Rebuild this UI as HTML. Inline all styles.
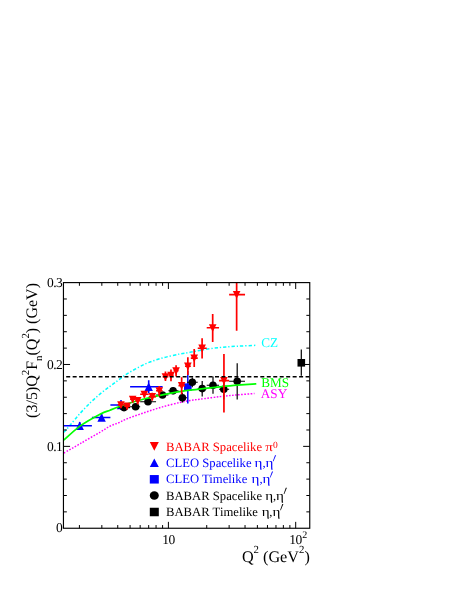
<!DOCTYPE html>
<html><head><meta charset="utf-8"><title>Form factor</title>
<style>html,body{margin:0;padding:0;background:#fff;}body{width:458px;height:592px;overflow:hidden;}svg{display:block;will-change:transform;}text{font-family:"Liberation Serif",serif;text-rendering:geometricPrecision;}</style></head><body>
<svg width="458" height="592" viewBox="0 0 458 592">
<rect x="0" y="0" width="458" height="592" fill="#fff"/>
<defs><clipPath id="c"><rect x="63.45" y="282.6" width="246.3" height="245.64999999999998"/></clipPath></defs>
<g clip-path="url(#c)">
<path d="M64.00,432.30 C64.93,431.23 66.95,429.02 69.60,425.90 C72.25,422.78 76.42,417.50 79.90,413.60 C83.38,409.70 87.07,405.83 90.50,402.50 C93.93,399.17 97.25,396.30 100.50,393.60 C103.75,390.90 106.95,388.60 110.00,386.30 C113.05,384.00 115.88,381.92 118.80,379.80 C121.72,377.68 123.15,376.22 127.50,373.60 C131.85,370.98 139.08,366.70 144.90,364.10 C150.72,361.50 156.57,359.68 162.40,358.00 C168.23,356.32 175.30,354.95 179.90,354.00 C184.50,353.05 186.23,352.98 190.00,352.30 C193.77,351.62 197.52,350.70 202.50,349.90 C207.48,349.10 214.08,348.12 219.90,347.50 C225.72,346.88 231.33,346.57 237.40,346.20 C243.47,345.83 253.15,345.45 256.30,345.30" fill="none" stroke="#00ffff" stroke-width="1.5" stroke-dasharray="3.3 1.9 1.3 2.0"/>
<path d="M64.00,453.00 C66.72,451.43 74.22,447.12 80.30,443.60 C86.38,440.08 95.55,434.80 100.50,431.90 C105.45,429.00 106.95,427.73 110.00,426.20 C113.05,424.67 115.88,423.97 118.80,422.70 C121.72,421.43 123.15,420.30 127.50,418.60 C131.85,416.90 139.08,414.45 144.90,412.50 C150.72,410.55 156.57,408.57 162.40,406.90 C168.23,405.23 175.30,403.57 179.90,402.50 C184.50,401.43 186.65,401.05 190.00,400.50 C193.35,399.95 195.02,399.85 200.00,399.20 C204.98,398.55 213.73,397.32 219.90,396.60 C226.07,395.88 231.23,395.42 237.00,394.90 C242.77,394.38 251.58,393.73 254.50,393.50" fill="none" stroke="#ff00ff" stroke-width="1.45" stroke-dasharray="1.6 1.5"/>
<line x1="63.45" y1="425.80" x2="91.90" y2="425.80" stroke="#0000ff" stroke-width="1.6"/>
<line x1="79.70" y1="422.00" x2="79.70" y2="429.60" stroke="#0000ff" stroke-width="1.6"/>
<path d="M75.50,430.00 L83.90,430.00 L79.70,421.60 Z" fill="#0000ff"/>
<line x1="91.90" y1="417.50" x2="110.40" y2="417.50" stroke="#0000ff" stroke-width="1.6"/>
<line x1="101.60" y1="413.90" x2="101.60" y2="421.10" stroke="#0000ff" stroke-width="1.6"/>
<path d="M97.40,421.70 L105.80,421.70 L101.60,413.30 Z" fill="#0000ff"/>
<line x1="110.40" y1="405.00" x2="130.10" y2="405.00" stroke="#0000ff" stroke-width="1.6"/>
<line x1="121.00" y1="399.90" x2="121.00" y2="410.00" stroke="#0000ff" stroke-width="1.6"/>
<path d="M116.80,409.20 L125.20,409.20 L121.00,400.80 Z" fill="#0000ff"/>
<line x1="130.10" y1="386.70" x2="162.60" y2="386.70" stroke="#0000ff" stroke-width="1.6"/>
<line x1="148.70" y1="380.20" x2="148.70" y2="393.20" stroke="#0000ff" stroke-width="1.6"/>
<path d="M144.50,390.90 L152.90,390.90 L148.70,382.50 Z" fill="#0000ff"/>
<line x1="187.80" y1="371.00" x2="187.80" y2="403.40" stroke="#0000ff" stroke-width="1.5"/>
<rect x="184.00" y="383.40" width="7.6" height="7.6" fill="#0000ff"/>
<line x1="117.74" y1="407.60" x2="130.08" y2="407.60" stroke="#000" stroke-width="1.1"/>
<line x1="124.00" y1="405.00" x2="124.00" y2="410.20" stroke="#000" stroke-width="1.2"/>
<circle cx="124.00" cy="407.60" r="3.8" fill="#000"/>
<line x1="130.08" y1="406.80" x2="140.16" y2="406.80" stroke="#000" stroke-width="1.1"/>
<line x1="135.60" y1="404.50" x2="135.60" y2="409.50" stroke="#000" stroke-width="1.2"/>
<circle cx="135.60" cy="406.80" r="3.8" fill="#000"/>
<line x1="140.16" y1="401.70" x2="156.06" y2="401.70" stroke="#000" stroke-width="1.1"/>
<line x1="148.00" y1="399.00" x2="148.00" y2="404.40" stroke="#000" stroke-width="1.2"/>
<circle cx="148.00" cy="401.70" r="3.8" fill="#000"/>
<line x1="156.06" y1="395.00" x2="168.40" y2="395.00" stroke="#000" stroke-width="1.1"/>
<line x1="162.50" y1="392.00" x2="162.50" y2="398.00" stroke="#000" stroke-width="1.2"/>
<circle cx="162.50" cy="395.00" r="3.8" fill="#000"/>
<line x1="168.40" y1="390.70" x2="178.48" y2="390.70" stroke="#000" stroke-width="1.1"/>
<line x1="173.10" y1="387.20" x2="173.10" y2="394.20" stroke="#000" stroke-width="1.2"/>
<circle cx="173.10" cy="390.70" r="3.8" fill="#000"/>
<line x1="178.48" y1="397.70" x2="187.00" y2="397.70" stroke="#000" stroke-width="1.1"/>
<line x1="182.40" y1="392.80" x2="182.40" y2="402.60" stroke="#000" stroke-width="1.2"/>
<circle cx="182.40" cy="397.70" r="3.8" fill="#000"/>
<line x1="187.00" y1="382.30" x2="197.74" y2="382.30" stroke="#000" stroke-width="1.1"/>
<line x1="192.30" y1="377.50" x2="192.30" y2="387.20" stroke="#000" stroke-width="1.2"/>
<circle cx="192.30" cy="382.30" r="3.8" fill="#000"/>
<line x1="197.74" y1="388.60" x2="206.72" y2="388.60" stroke="#000" stroke-width="1.1"/>
<line x1="202.20" y1="381.00" x2="202.20" y2="396.40" stroke="#000" stroke-width="1.2"/>
<circle cx="202.20" cy="388.60" r="3.8" fill="#000"/>
<line x1="206.72" y1="385.20" x2="219.06" y2="385.20" stroke="#000" stroke-width="1.1"/>
<line x1="213.00" y1="376.60" x2="213.00" y2="393.80" stroke="#000" stroke-width="1.2"/>
<circle cx="213.00" cy="385.20" r="3.8" fill="#000"/>
<line x1="219.06" y1="389.30" x2="229.14" y2="389.30" stroke="#000" stroke-width="1.1"/>
<line x1="223.80" y1="379.00" x2="223.80" y2="399.50" stroke="#000" stroke-width="1.2"/>
<circle cx="223.80" cy="389.30" r="3.8" fill="#000"/>
<line x1="229.14" y1="381.20" x2="245.04" y2="381.20" stroke="#000" stroke-width="1.1"/>
<line x1="237.20" y1="363.20" x2="237.20" y2="399.50" stroke="#000" stroke-width="1.2"/>
<circle cx="237.20" cy="381.20" r="3.8" fill="#000"/>
<line x1="301.30" y1="349.50" x2="301.30" y2="375.80" stroke="#000" stroke-width="1.2"/>
<rect x="297.50" y="359.00" width="7.6" height="7.6" fill="#000"/>
<path d="M64.00,440.00 C66.72,437.65 74.22,430.23 80.30,425.90 C86.38,421.57 95.55,416.62 100.50,414.00 C105.45,411.38 106.95,411.40 110.00,410.20 C113.05,409.00 115.88,407.88 118.80,406.80 C121.72,405.72 123.15,405.03 127.50,403.70 C131.85,402.37 139.08,400.27 144.90,398.80 C150.72,397.33 157.38,395.97 162.40,394.90 C167.42,393.83 170.40,393.18 175.00,392.40 C179.60,391.62 185.00,390.87 190.00,390.20 C195.00,389.53 200.02,388.97 205.00,388.40 C209.98,387.83 214.57,387.33 219.90,386.80 C225.23,386.27 230.93,385.70 237.00,385.20 C243.07,384.70 253.08,384.03 256.30,383.80" fill="none" stroke="#00ff00" stroke-width="1.7"/>
<line x1="117.74" y1="404.80" x2="124.25" y2="404.80" stroke="#ff0000" stroke-width="1.6"/>
<line x1="120.96" y1="401.80" x2="120.96" y2="407.80" stroke="#ff0000" stroke-width="1.7"/>
<path d="M117.16,401.20 L124.76,401.20 L120.96,409.00 Z" fill="#ff0000"/>
<line x1="124.25" y1="406.10" x2="130.08" y2="406.10" stroke="#ff0000" stroke-width="1.6"/>
<line x1="127.13" y1="403.00" x2="127.13" y2="409.20" stroke="#ff0000" stroke-width="1.7"/>
<path d="M123.33,402.50 L130.93,402.50 L127.13,410.30 Z" fill="#ff0000"/>
<line x1="130.08" y1="399.30" x2="135.35" y2="399.30" stroke="#ff0000" stroke-width="1.6"/>
<line x1="132.67" y1="396.00" x2="132.67" y2="402.60" stroke="#ff0000" stroke-width="1.7"/>
<path d="M128.87,395.70 L136.47,395.70 L132.67,403.50 Z" fill="#ff0000"/>
<line x1="135.35" y1="400.60" x2="140.16" y2="400.60" stroke="#ff0000" stroke-width="1.6"/>
<line x1="137.71" y1="397.00" x2="137.71" y2="404.20" stroke="#ff0000" stroke-width="1.7"/>
<path d="M133.91,397.00 L141.51,397.00 L137.71,404.80 Z" fill="#ff0000"/>
<line x1="140.16" y1="394.30" x2="148.68" y2="394.30" stroke="#ff0000" stroke-width="1.6"/>
<line x1="144.33" y1="391.00" x2="144.33" y2="397.60" stroke="#ff0000" stroke-width="1.7"/>
<path d="M140.53,390.70 L148.13,390.70 L144.33,398.50 Z" fill="#ff0000"/>
<line x1="148.68" y1="396.70" x2="156.06" y2="396.70" stroke="#ff0000" stroke-width="1.6"/>
<line x1="152.27" y1="392.80" x2="152.27" y2="400.60" stroke="#ff0000" stroke-width="1.7"/>
<path d="M148.47,393.10 L156.07,393.10 L152.27,400.90 Z" fill="#ff0000"/>
<line x1="156.06" y1="390.80" x2="162.58" y2="390.80" stroke="#ff0000" stroke-width="1.6"/>
<line x1="159.28" y1="386.00" x2="159.28" y2="396.20" stroke="#ff0000" stroke-width="1.7"/>
<path d="M155.48,387.20 L163.08,387.20 L159.28,395.00 Z" fill="#ff0000"/>
<line x1="162.58" y1="376.80" x2="168.40" y2="376.80" stroke="#ff0000" stroke-width="1.6"/>
<line x1="165.45" y1="371.60" x2="165.45" y2="381.00" stroke="#ff0000" stroke-width="1.7"/>
<path d="M161.65,373.20 L169.25,373.20 L165.45,381.00 Z" fill="#ff0000"/>
<line x1="168.40" y1="375.30" x2="173.67" y2="375.30" stroke="#ff0000" stroke-width="1.6"/>
<line x1="170.99" y1="369.40" x2="170.99" y2="381.20" stroke="#ff0000" stroke-width="1.7"/>
<path d="M167.19,371.70 L174.79,371.70 L170.99,379.50 Z" fill="#ff0000"/>
<line x1="173.67" y1="370.80" x2="178.48" y2="370.80" stroke="#ff0000" stroke-width="1.6"/>
<line x1="176.08" y1="365.20" x2="176.08" y2="376.50" stroke="#ff0000" stroke-width="1.7"/>
<path d="M172.28,367.20 L179.88,367.20 L176.08,375.00 Z" fill="#ff0000"/>
<line x1="178.48" y1="385.60" x2="184.99" y2="385.60" stroke="#ff0000" stroke-width="1.6"/>
<line x1="181.66" y1="377.20" x2="181.66" y2="394.20" stroke="#ff0000" stroke-width="1.7"/>
<path d="M177.86,382.00 L185.46,382.00 L181.66,389.80 Z" fill="#ff0000"/>
<line x1="184.99" y1="366.20" x2="190.82" y2="366.20" stroke="#ff0000" stroke-width="1.6"/>
<line x1="187.86" y1="357.20" x2="187.86" y2="375.10" stroke="#ff0000" stroke-width="1.7"/>
<path d="M184.06,362.60 L191.66,362.60 L187.86,370.40 Z" fill="#ff0000"/>
<line x1="190.82" y1="358.10" x2="197.74" y2="358.10" stroke="#ff0000" stroke-width="1.6"/>
<line x1="194.21" y1="349.00" x2="194.21" y2="367.00" stroke="#ff0000" stroke-width="1.7"/>
<path d="M190.41,354.50 L198.01,354.50 L194.21,362.30 Z" fill="#ff0000"/>
<line x1="197.74" y1="348.20" x2="206.72" y2="348.20" stroke="#ff0000" stroke-width="1.6"/>
<line x1="202.11" y1="338.20" x2="202.11" y2="358.60" stroke="#ff0000" stroke-width="1.7"/>
<path d="M198.31,344.60 L205.91,344.60 L202.11,352.40 Z" fill="#ff0000"/>
<line x1="206.72" y1="327.80" x2="219.06" y2="327.80" stroke="#ff0000" stroke-width="1.6"/>
<line x1="212.69" y1="314.00" x2="212.69" y2="342.00" stroke="#ff0000" stroke-width="1.7"/>
<path d="M208.89,324.20 L216.49,324.20 L212.69,332.00 Z" fill="#ff0000"/>
<line x1="219.06" y1="380.60" x2="229.14" y2="380.60" stroke="#ff0000" stroke-width="1.6"/>
<line x1="223.94" y1="353.90" x2="223.94" y2="412.40" stroke="#ff0000" stroke-width="1.7"/>
<path d="M220.14,377.00 L227.74,377.00 L223.94,384.80 Z" fill="#ff0000"/>
<line x1="229.14" y1="294.60" x2="245.04" y2="294.60" stroke="#ff0000" stroke-width="1.6"/>
<line x1="236.64" y1="258.00" x2="236.64" y2="330.80" stroke="#ff0000" stroke-width="1.7"/>
<path d="M232.84,291.00 L240.44,291.00 L236.64,298.80 Z" fill="#ff0000"/>
<line x1="66.2" y1="376.75" x2="309.75" y2="376.75" stroke="#000" stroke-width="1.6" stroke-dasharray="4.0 2.47"/>
</g>
<rect x="63.45" y="282.6" width="246.3" height="245.64999999999998" fill="none" stroke="#000" stroke-width="1.15"/>
<path d="M63.45,511.87h3.4 M309.75,511.87h-3.4 M63.45,495.50h3.4 M309.75,495.50h-3.4 M63.45,479.12h3.4 M309.75,479.12h-3.4 M63.45,462.74h3.4 M309.75,462.74h-3.4 M63.45,446.37h6.6 M309.75,446.37h-6.6 M63.45,429.99h3.4 M309.75,429.99h-3.4 M63.45,413.61h3.4 M309.75,413.61h-3.4 M63.45,397.24h3.4 M309.75,397.24h-3.4 M63.45,380.86h3.4 M309.75,380.86h-3.4 M63.45,364.48h6.6 M309.75,364.48h-6.6 M63.45,348.11h3.4 M309.75,348.11h-3.4 M63.45,331.73h3.4 M309.75,331.73h-3.4 M63.45,315.35h3.4 M309.75,315.35h-3.4 M63.45,298.98h3.4 M309.75,298.98h-3.4 M79.42,528.25v-3.2 M79.42,282.6v3.2 M101.84,528.25v-3.2 M101.84,282.6v3.2 M117.74,528.25v-3.2 M117.74,282.6v3.2 M130.08,528.25v-3.2 M130.08,282.6v3.2 M140.16,528.25v-3.2 M140.16,282.6v3.2 M148.68,528.25v-3.2 M148.68,282.6v3.2 M156.06,528.25v-3.2 M156.06,282.6v3.2 M162.58,528.25v-3.2 M162.58,282.6v3.2 M168.40,528.25v-6.4 M168.40,282.6v6.4 M206.72,528.25v-3.2 M206.72,282.6v3.2 M229.14,528.25v-3.2 M229.14,282.6v3.2 M245.04,528.25v-3.2 M245.04,282.6v3.2 M257.38,528.25v-3.2 M257.38,282.6v3.2 M267.46,528.25v-3.2 M267.46,282.6v3.2 M275.98,528.25v-3.2 M275.98,282.6v3.2 M283.36,528.25v-3.2 M283.36,282.6v3.2 M289.88,528.25v-3.2 M289.88,282.6v3.2 M295.70,528.25v-6.4 M295.70,282.6v6.4" stroke="#000" stroke-width="1.0" fill="none"/>
<text x="62.3" y="286.80" font-size="13.5" letter-spacing="-0.5" text-anchor="end">0.3</text>
<text x="62.3" y="368.68" font-size="13.5" letter-spacing="-0.5" text-anchor="end">0.2</text>
<text x="62.3" y="450.57" font-size="13.5" letter-spacing="-0.5" text-anchor="end">0.1</text>
<text x="62.3" y="532.45" font-size="13.5" letter-spacing="-0.5" text-anchor="end">0</text>
<text x="168.40" y="543.7" font-size="13.5" letter-spacing="-0.5" text-anchor="middle">10</text>
<text x="289.20" y="543.5" font-size="13.5" letter-spacing="-0.5">10<tspan font-size="10" dy="-5.8" dx="0.6">2</tspan></text>
<text x="309.8" y="561.5" font-size="16.2" text-anchor="end">Q<tspan font-size="10.8" dy="-8.5">2</tspan><tspan dy="8.5"> (GeV</tspan><tspan font-size="10.8" dy="-8.5">2</tspan><tspan dy="8.5">)</tspan></text>
<text transform="translate(37.4,283.0) rotate(-90)" font-size="16" text-anchor="end">(3/5)Q<tspan font-size="10.8" dy="-8.5">2</tspan><tspan dy="8.5">F</tspan><tspan font-size="10.8" dy="4.2">n</tspan><tspan dy="-4.2">(Q</tspan><tspan font-size="10.8" dy="-8.5">2</tspan><tspan dy="8.5">) (GeV)</tspan></text>
<text x="261.3" y="347.0" font-size="13.2" fill="#00ffff">CZ</text>
<text x="261.3" y="386.5" font-size="13.2" fill="#00ff00">BMS</text>
<text x="260.8" y="397.5" font-size="13.2" fill="#ff00ff">ASY</text>
<path d="M149.80,442.10 L158.80,442.10 L154.30,450.70 Z" fill="#ff0000"/>
<path d="M149.80,467.10 L158.80,467.10 L154.30,458.50 Z" fill="#0000ff"/>
<rect x="149.80" y="475.05" width="9.0" height="8.5" fill="#0000ff"/>
<ellipse cx="154.3" cy="495.6" rx="4.5" ry="4.25" fill="#000"/>
<rect x="149.80" y="507.75" width="9.0" height="8.5" fill="#000"/>
<text x="166" y="450.6" font-size="12.68" fill="#ff0000">BABAR Spacelike</text>
<text transform="translate(265.35,450.6) scale(1.2,1)" font-size="12.6" fill="#ff0000">π</text>
<text x="273.1" y="447.70" font-size="9.5" fill="#ff0000">0</text>
<text x="166" y="466.9" font-size="12.68" fill="#0000ff">CLEO Spacelike</text>
<text transform="translate(254.50,466.9) scale(1.16,1)" font-size="13" fill="#0000ff">η</text><text transform="translate(262.60,466.9) scale(1.0,1)" font-size="12.5" fill="#0000ff">,</text><text transform="translate(265.40,466.9) scale(1.16,1)" font-size="13" fill="#0000ff">η</text><path d="M272.80,461.30 L273.50,461.30 L276.10,455.20 L275.00,455.20 Z" fill="#0000ff"/>
<text x="166" y="483.2" font-size="12.68" fill="#0000ff">CLEO Timelike</text>
<text transform="translate(251.40,483.2) scale(1.16,1)" font-size="13" fill="#0000ff">η</text><text transform="translate(259.50,483.2) scale(1.0,1)" font-size="12.5" fill="#0000ff">,</text><text transform="translate(262.40,483.2) scale(1.16,1)" font-size="13" fill="#0000ff">η</text><path d="M269.80,477.60 L270.50,477.60 L273.10,471.50 L272.00,471.50 Z" fill="#0000ff"/>
<text x="166" y="499.5" font-size="12.68" fill="#000">BABAR Spacelike</text>
<text transform="translate(265.20,499.5) scale(1.16,1)" font-size="13" fill="#000">η</text><text transform="translate(273.00,499.5) scale(1.0,1)" font-size="12.5" fill="#000">,</text><text transform="translate(276.10,499.5) scale(1.16,1)" font-size="13" fill="#000">η</text><path d="M283.60,493.90 L284.30,493.90 L286.90,487.80 L285.80,487.80 Z" fill="#000"/>
<text x="166" y="515.8" font-size="12.68" fill="#000">BABAR Timelike</text>
<text transform="translate(261.70,515.8) scale(1.16,1)" font-size="13" fill="#000">η</text><text transform="translate(269.30,515.8) scale(1.0,1)" font-size="12.5" fill="#000">,</text><text transform="translate(272.60,515.8) scale(1.16,1)" font-size="13" fill="#000">η</text><path d="M280.10,510.20 L280.80,510.20 L283.40,504.10 L282.30,504.10 Z" fill="#000"/>
</svg></body></html>
